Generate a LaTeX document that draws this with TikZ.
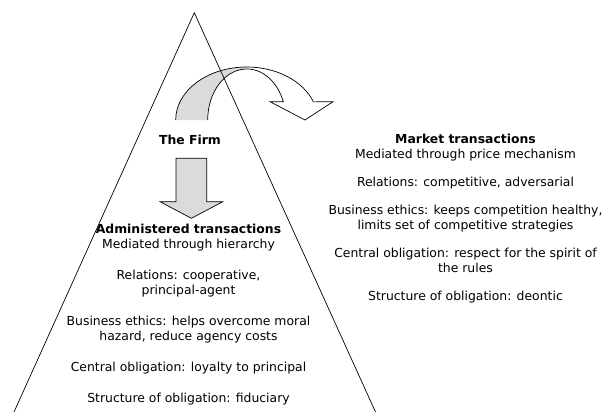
\documentclass[tikz,border=0pt]{standalone}
\usepackage{fontspec}
\setmainfont{DejaVu Sans}

\begin{document}
\begin{tikzpicture}[x=1pt, y=-1pt, line width=0.7pt,
  txt/.style={align=center, inner sep=0pt, font=\fontsize{12.4}{15}\selectfont},
  shade/.style={fill=black!14}]
\useasboundingbox (0,0) rectangle (613,412);
% curved arrow: shaded back face
\fill[shade] (175.7,120) arc[start angle=180, end angle=270, x radius=71, y radius=53]
  -- (246.7,69) arc[start angle=270, end angle=180, x radius=39, y radius=51] -- cycle;
\draw (175.7,120) arc[start angle=180, end angle=270, x radius=71, y radius=53];
\draw (207.7,120) arc[start angle=180, end angle=270, x radius=39, y radius=51];
% front face with the head
\draw (246.7,67) arc[start angle=270, end angle=340, x radius=71, y radius=53]
  -- (333,101.7) -- (305,120) -- (270,101.7) -- (283.3,101.7)
  arc[start angle=339, end angle=270, x radius=39, y radius=51];
% down arrow
\filldraw[shade] (176,158.3) -- (206.7,158.3) -- (206.7,201.7) -- (222.7,201.7)
  -- (191.4,218.3) -- (160,201.7) -- (176,201.7) -- cycle;
% the pyramid
\draw (14,412) -- (194.3,12.7) -- (375.5,412);

\node[txt, font=\fontsize{12.4}{15}\selectfont\bfseries] (firm) at (190,140) {The Firm};
\node[txt, anchor=north] (admin) at (188.5,224) {\textbf{Administered transactions}\\
  Mediated through hierarchy\\[16pt]
  Relations: cooperative,\\
  principal-agent\\[16pt]
  Business ethics: helps overcome moral\\
  hazard, reduce agency costs\\[16pt]
  Central obligation: loyalty to principal\\[16pt]
  Structure of obligation: fiduciary};
\node[txt, anchor=north] (market) at (465.5,134) {\textbf{Market transactions}\\
  Mediated through price mechanism\\[13pt]
  Relations: competitive, adversarial\\[13pt]
  Business ethics: keeps competition healthy,\\
  limits set of competitive strategies\\[13pt]
  Central obligation: respect for the spirit of\\
  the rules\\[13pt]
  Structure of obligation: deontic};
\end{tikzpicture}
\end{document}
